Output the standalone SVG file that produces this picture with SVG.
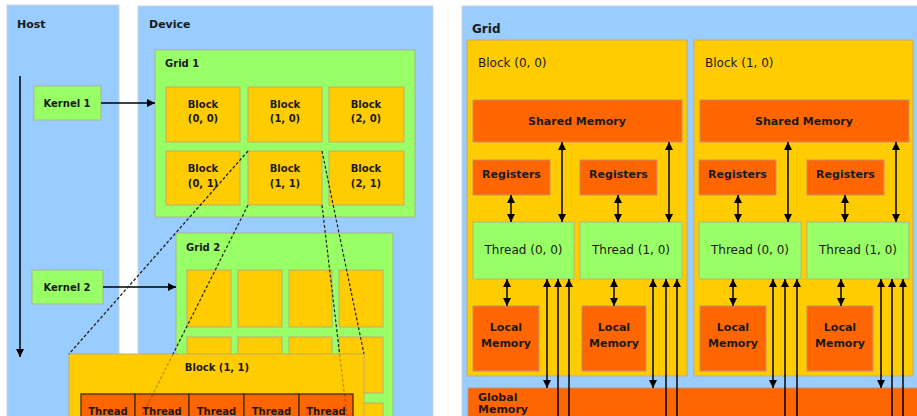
<svg xmlns="http://www.w3.org/2000/svg" width="917" height="416" viewBox="0 0 917 416">
<style>
.panel{fill:#99ccff;stroke:#c8d4e0;stroke-width:1}
.green{fill:#99ff66;stroke:#a8b890;stroke-width:1}
.yellow{fill:#ffcc00;stroke:#c0ac70;stroke-width:1}
.orange{fill:#ff6600;stroke:#c89070;stroke-width:1}
.cell{fill:#ff6600;stroke:#4a2a10;stroke-width:1.3}
text{font-family:"DejaVu Sans","Verdana",sans-serif;fill:#1a1a1a}
.b{font-weight:bold}
.t10{font-size:10px}
.t11{font-size:11px}
.t12{font-size:12px}
.mid{text-anchor:middle}
.arr{stroke:#000;stroke-width:1.5;fill:none}
.dash{stroke:#222;stroke-width:1.2;stroke-dasharray:3 2;fill:none}
</style>
<defs>
<marker id="ah" markerUnits="userSpaceOnUse" markerWidth="8" markerHeight="8" refX="8" refY="4" orient="auto-start-reverse">
<path d="M0,0 L8,4 L0,8 z" fill="#000"/>
</marker>
</defs>
<rect width="917" height="416" fill="#ffffff"/>

<g id="host">
<rect class="panel" x="7" y="5" width="112" height="420"/>
<text class="b t11" x="17" y="28">Host</text>
</g>
<g id="kernel1">
<rect class="green" x="34" y="86" width="67" height="34"/>
<text class="b t10 mid" x="67" y="107">Kernel 1</text>
</g>
<g id="kernel2">
<rect class="green" x="32" y="270" width="71" height="34"/>
<text class="b t10 mid" x="67" y="291">Kernel 2</text>
</g>

<g id="device">
<rect class="panel" x="138" y="6" width="295" height="420"/>
<text class="b t11" x="149" y="28">Device</text>
</g>

<g id="grid1">
<rect class="green" x="155" y="50" width="260" height="167"/>
<text class="b t10" x="165" y="67">Grid 1</text>
</g>
<g id="g1-block00"><rect class="yellow" x="166" y="87" width="74" height="55"/><text class="b t10 mid" x="203" y="108">Block</text><text class="b t10 mid" x="203" y="122">(0, 0)</text></g>
<g id="g1-block10"><rect class="yellow" x="248" y="87" width="74" height="55"/><text class="b t10 mid" x="285" y="108">Block</text><text class="b t10 mid" x="285" y="122">(1, 0)</text></g>
<g id="g1-block20"><rect class="yellow" x="329" y="87" width="75" height="55"/><text class="b t10 mid" x="366" y="108">Block</text><text class="b t10 mid" x="366" y="122">(2, 0)</text></g>
<g id="g1-block01"><rect class="yellow" x="166" y="151" width="74" height="54"/><text class="b t10 mid" x="203" y="172">Block</text><text class="b t10 mid" x="203" y="187">(0, 1)</text></g>
<g id="g1-block11"><rect class="yellow" x="248" y="151" width="74" height="54"/><text class="b t10 mid" x="285" y="172">Block</text><text class="b t10 mid" x="285" y="187">(1, 1)</text></g>
<g id="g1-block21"><rect class="yellow" x="329" y="151" width="75" height="54"/><text class="b t10 mid" x="366" y="172">Block</text><text class="b t10 mid" x="366" y="187">(2, 1)</text></g>

<g id="grid2">
<rect class="green" x="176" y="233" width="217" height="200"/>
<text class="b t10" x="186" y="251">Grid 2</text>
<rect class="yellow" x="187" y="270" width="44" height="57"/>
<rect class="yellow" x="238" y="270" width="44" height="57"/>
<rect class="yellow" x="289" y="270" width="43" height="57"/>
<rect class="yellow" x="339" y="270" width="44" height="57"/>
<rect class="yellow" x="187" y="337" width="44" height="56"/>
<rect class="yellow" x="238" y="337" width="44" height="56"/>
<rect class="yellow" x="289" y="337" width="43" height="56"/>
<rect class="yellow" x="339" y="337" width="44" height="56"/>
<rect class="yellow" x="187" y="403" width="44" height="40"/>
<rect class="yellow" x="238" y="403" width="44" height="40"/>
<rect class="yellow" x="289" y="403" width="43" height="40"/>
<rect class="yellow" x="339" y="403" width="44" height="40"/>
</g>

<g id="block11-detail">
<rect class="yellow" x="69" y="354" width="295" height="80"/>
<text class="b t10 mid" x="217" y="371">Block (1, 1)</text>
<rect class="cell" x="81" y="394" width="54" height="40"/>
<rect class="cell" x="135" y="394" width="54" height="40"/>
<rect class="cell" x="189" y="394" width="55" height="40"/>
<rect class="cell" x="244" y="394" width="55" height="40"/>
<rect class="cell" x="299" y="394" width="54" height="40"/>
<text class="b t10 mid" x="108" y="414.5">Thread</text>
<text class="b t10 mid" x="162" y="414.5">Thread</text>
<text class="b t10 mid" x="216.5" y="414.5">Thread</text>
<text class="b t10 mid" x="271.5" y="414.5">Thread</text>
<text class="b t10 mid" x="326" y="414.5">Thread</text>
</g>

<g id="grid">
<rect class="panel" x="462" y="6" width="460" height="420"/>
<text class="b t12" x="472" y="33">Grid</text>
</g>
<g id="block00">
<rect class="yellow" x="467" y="40" width="220" height="336"/>
<text class="t12" x="478" y="67">Block (0, 0)</text>
</g>
<g id="block10">
<rect class="yellow" x="694" y="40" width="219" height="336"/>
<text class="t12" x="705" y="67">Block (1, 0)</text>
</g>
<g id="shared0"><rect class="orange" x="473" y="100" width="209" height="42"/><text class="b t11 mid" x="577" y="125">Shared Memory</text></g>
<g id="shared1"><rect class="orange" x="700" y="100" width="209" height="42"/><text class="b t11 mid" x="804" y="125">Shared Memory</text></g>
<g id="reg00"><rect class="orange" x="473" y="160" width="77" height="35"/><text class="b t11 mid" x="511.5" y="178">Registers</text></g>
<g id="reg10"><rect class="orange" x="580" y="160" width="77" height="35"/><text class="b t11 mid" x="618.5" y="178">Registers</text></g>
<g id="reg01"><rect class="orange" x="699" y="160" width="77" height="35"/><text class="b t11 mid" x="737.5" y="178">Registers</text></g>
<g id="reg11"><rect class="orange" x="807" y="160" width="77" height="35"/><text class="b t11 mid" x="845.5" y="178">Registers</text></g>
<g id="thread00"><rect class="green" x="473" y="222" width="101" height="57"/><text class="t12 mid" x="523.5" y="254">Thread (0, 0)</text></g>
<g id="thread10"><rect class="green" x="580" y="222" width="102" height="57"/><text class="t12 mid" x="631" y="254">Thread (1, 0)</text></g>
<g id="thread01"><rect class="green" x="699" y="222" width="102" height="57"/><text class="t12 mid" x="750" y="254">Thread (0, 0)</text></g>
<g id="thread11"><rect class="green" x="807" y="222" width="102" height="57"/><text class="t12 mid" x="858" y="254">Thread (1, 0)</text></g>
<g id="local00"><rect class="orange" x="473" y="306" width="66" height="65"/><text class="b t11 mid" x="506" y="331">Local</text><text class="b t11 mid" x="506" y="347">Memory</text></g>
<g id="local10"><rect class="orange" x="582" y="306" width="64" height="65"/><text class="b t11 mid" x="614" y="331">Local</text><text class="b t11 mid" x="614" y="347">Memory</text></g>
<g id="local01"><rect class="orange" x="700" y="306" width="66" height="65"/><text class="b t11 mid" x="733" y="331">Local</text><text class="b t11 mid" x="733" y="347">Memory</text></g>
<g id="local11"><rect class="orange" x="807" y="306" width="66" height="65"/><text class="b t11 mid" x="840" y="331">Local</text><text class="b t11 mid" x="840" y="347">Memory</text></g>
<g id="global">
<rect class="orange" x="468" y="388" width="460" height="40"/>
<text class="b t11" x="478" y="401">Global</text>
<text class="b t11" x="478" y="413">Memory</text>
</g>

<g id="connectors">
<line class="arr" x1="20" y1="76" x2="20" y2="357" marker-end="url(#ah)"/>
<line class="arr" x1="101" y1="103" x2="155" y2="103" marker-end="url(#ah)"/>
<line class="arr" x1="103" y1="287" x2="176" y2="287" marker-end="url(#ah)"/>
<line class="dash" x1="248" y1="151" x2="69" y2="354"/>
<line class="dash" x1="322" y1="151" x2="364" y2="354"/>
<line class="dash" x1="248" y1="205" x2="173" y2="354"/>
<line class="dash" x1="322" y1="205" x2="339.6" y2="354"/>
<line class="dash" x1="173" y1="354" x2="142" y2="416" opacity="0.35"/>
<line class="dash" x1="339.6" y1="354" x2="347" y2="416" opacity="0.35"/>
<line class="arr" x1="511" y1="195" x2="511" y2="222" marker-start="url(#ah)" marker-end="url(#ah)"/>
<line class="arr" x1="618" y1="195" x2="618" y2="222" marker-start="url(#ah)" marker-end="url(#ah)"/>
<line class="arr" x1="738" y1="195" x2="738" y2="222" marker-start="url(#ah)" marker-end="url(#ah)"/>
<line class="arr" x1="845" y1="195" x2="845" y2="222" marker-start="url(#ah)" marker-end="url(#ah)"/>
<line class="arr" x1="562" y1="142" x2="562" y2="222" marker-start="url(#ah)" marker-end="url(#ah)"/>
<line class="arr" x1="669" y1="142" x2="669" y2="222" marker-start="url(#ah)" marker-end="url(#ah)"/>
<line class="arr" x1="788" y1="142" x2="788" y2="222" marker-start="url(#ah)" marker-end="url(#ah)"/>
<line class="arr" x1="896" y1="142" x2="896" y2="222" marker-start="url(#ah)" marker-end="url(#ah)"/>
<line class="arr" x1="507" y1="279" x2="507" y2="306" marker-start="url(#ah)" marker-end="url(#ah)"/>
<line class="arr" x1="614" y1="279" x2="614" y2="306" marker-start="url(#ah)" marker-end="url(#ah)"/>
<line class="arr" x1="733" y1="279" x2="733" y2="306" marker-start="url(#ah)" marker-end="url(#ah)"/>
<line class="arr" x1="841" y1="279" x2="841" y2="306" marker-start="url(#ah)" marker-end="url(#ah)"/>
<line class="arr" x1="547" y1="279" x2="547" y2="388" marker-start="url(#ah)" marker-end="url(#ah)"/>
<line class="arr" x1="653" y1="279" x2="653" y2="388" marker-start="url(#ah)" marker-end="url(#ah)"/>
<line class="arr" x1="773" y1="279" x2="773" y2="388" marker-start="url(#ah)" marker-end="url(#ah)"/>
<line class="arr" x1="881" y1="279" x2="881" y2="388" marker-start="url(#ah)" marker-end="url(#ah)"/>
<line class="arr" x1="558" y1="420" x2="558" y2="279" marker-end="url(#ah)"/>
<line class="arr" x1="569" y1="420" x2="569" y2="279" marker-end="url(#ah)"/>
<line class="arr" x1="666" y1="420" x2="666" y2="279" marker-end="url(#ah)"/>
<line class="arr" x1="677" y1="420" x2="677" y2="279" marker-end="url(#ah)"/>
<line class="arr" x1="785" y1="420" x2="785" y2="279" marker-end="url(#ah)"/>
<line class="arr" x1="797" y1="420" x2="797" y2="279" marker-end="url(#ah)"/>
<line class="arr" x1="892" y1="420" x2="892" y2="279" marker-end="url(#ah)"/>
<line class="arr" x1="903" y1="420" x2="903" y2="279" marker-end="url(#ah)"/>
</g>
</svg>
